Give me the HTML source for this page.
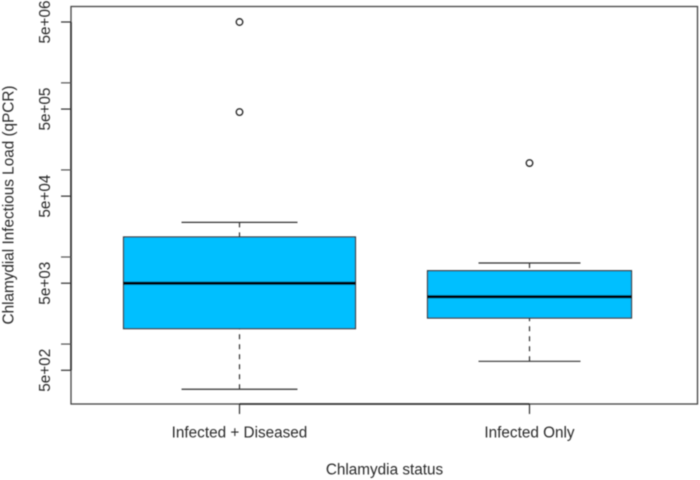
<!DOCTYPE html>
<html>
<head>
<meta charset="utf-8">
<title>Chlamydial Infectious Load boxplot</title>
<style>
html,body{margin:0;padding:0;background:#fff;}
svg{display:block;}
text{font-family:"Liberation Sans",sans-serif;fill:#2a2a2a;font-size:15.3px;}
</style>
</head>
<body>
<svg id="chart" width="700" height="480" viewBox="0 0 700 480" xmlns="http://www.w3.org/2000/svg">
  <defs><filter id="soft" x="-5%" y="-5%" width="110%" height="110%"><feGaussianBlur stdDeviation="0.42"/></filter></defs>
  <rect width="700" height="480" fill="#fff"/>
  <g id="root" filter="url(#soft)"></g>
</svg>
<script>
const categories = ["Infected + Diseased", "Infected Only"];
const whiskerLow = [303, 634];
const quartile1 = [1503, 1990];
const medians = [4990, 3500];
const quartile3 = [16980, 6960];
const whiskerHigh = [25000, 8530];
const outliers = [[5000000, 462000], [120000]];
const sampleWeights = [1.137, 1];
const majorTicks = [500, 5000, 50000, 500000, 5000000];
const majorTickLabels = ["5e+02", "5e+03", "5e+04", "5e+05", "5e+06"];
const minorTicks = [1000, 10000, 100000, 1000000];
const xAxisTitle = "Chlamydia status";
const yAxisTitle = "Chlamydial Infectious Load (qPCR)";

const plot = {left: 71, right: 697.5, top: 6.5, bottom: 404};
const yRef = {value: 5000000, pixel: 22, perDecade: 87.07};
const xRef = {first: 239.5, step: 290};
const baseHalfWidth = 102;
const capRatio = 0.5;
const NS = "http://www.w3.org/2000/svg";
const root = document.getElementById("root");

function yScale(v) {
  return yRef.pixel + (Math.log10(yRef.value) - Math.log10(v)) * yRef.perDecade;
}
function xScale(i) {
  return xRef.first + i * xRef.step;
}
function make(tag, attrs, parent) {
  const el = document.createElementNS(NS, tag);
  for (const k in attrs) el.setAttribute(k, attrs[k]);
  (parent || root).appendChild(el);
  return el;
}

const frame = make("rect", {x: plot.left, y: plot.top, width: plot.right - plot.left, height: plot.bottom - plot.top, fill: "none", stroke: "#444", "stroke-width": 1.3});



const yAxis = make("g", {});


make("line", {x1: plot.left, x2: plot.left, y1: yScale(minorTicks[minorTicks.length - 1] * 5), y2: yScale(majorTicks[0]), stroke: "#222", "stroke-width": 1.5}, yAxis);

majorTicks.forEach(function (v, i) {
  const y = yScale(v);
  const tick = make("line", {x1: plot.left - 10, x2: plot.left, y1: y, y2: y, stroke: "#333", "stroke-width": 1.2}, yAxis);
  
  
  const label = make("text", {x: 50, y: y, transform: "rotate(-90 50 " + y + ")", "text-anchor": "middle"}, yAxis);
  label.textContent = majorTickLabels[i];
  
  
});
minorTicks.forEach(function (v) {
  const y = yScale(v);
  const tick = make("line", {x1: plot.left - 10, x2: plot.left, y1: y, y2: y, stroke: "#555", "stroke-width": 1.2}, yAxis);
  
  
});

const xAxis = make("g", {});


make("line", {x1: xScale(0), x2: xScale(categories.length - 1), y1: plot.bottom, y2: plot.bottom, stroke: "#222", "stroke-width": 1.5}, xAxis);

categories.forEach(function (name, i) {
  const cx = xScale(i);
  const half = baseHalfWidth * sampleWeights[i];
  const capHalf = half * capRatio;

  const tick = make("line", {x1: cx, x2: cx, y1: plot.bottom, y2: plot.bottom + 10, stroke: "#333", "stroke-width": 1.2}, xAxis);
  
  
  const label = make("text", {x: cx, y: 437.5, "text-anchor": "middle"}, xAxis);
  label.textContent = name;
  
  

  const group = make("g", {});
  
  

  const whiskerUp = make("line", {x1: cx, x2: cx, y1: yScale(whiskerHigh[i]), y2: yScale(quartile3[i]), stroke: "#333", "stroke-width": 1.2, "stroke-dasharray": "5 5"}, group);
  
  
  const whiskerDown = make("line", {x1: cx, x2: cx, y1: yScale(whiskerLow[i]), y2: yScale(quartile1[i]), stroke: "#333", "stroke-width": 1.2, "stroke-dasharray": "5 5"}, group);
  
  
  const capUp = make("line", {x1: cx - capHalf, x2: cx + capHalf, y1: yScale(whiskerHigh[i]), y2: yScale(whiskerHigh[i]), stroke: "#333", "stroke-width": 1.2}, group);
  
  
  const capDown = make("line", {x1: cx - capHalf, x2: cx + capHalf, y1: yScale(whiskerLow[i]), y2: yScale(whiskerLow[i]), stroke: "#333", "stroke-width": 1.2}, group);
  
  

  const box = make("rect", {x: cx - half, y: yScale(quartile3[i]), width: half * 2, height: yScale(quartile1[i]) - yScale(quartile3[i]), fill: "#00bfff", stroke: "#333", "stroke-width": 1.2}, group);
  
  
  const median = make("line", {x1: cx - half, x2: cx + half, y1: yScale(medians[i]), y2: yScale(medians[i]), stroke: "#000", "stroke-width": 3}, group);
  
  

  outliers[i].forEach(function (v) {
    const pt = make("circle", {cx: cx, cy: yScale(v), r: 3.3, fill: "none", stroke: "#222", "stroke-width": 1.3}, group);
    
    
  });
});

const xTitle = make("text", {x: 384.5, y: 474.5, "text-anchor": "middle"});
xTitle.textContent = xAxisTitle;



const yTitle = make("text", {x: 13.5, y: 205, transform: "rotate(-90 13.5 205)", "text-anchor": "middle"});
yTitle.textContent = yAxisTitle;


</script>
</body>
</html>
